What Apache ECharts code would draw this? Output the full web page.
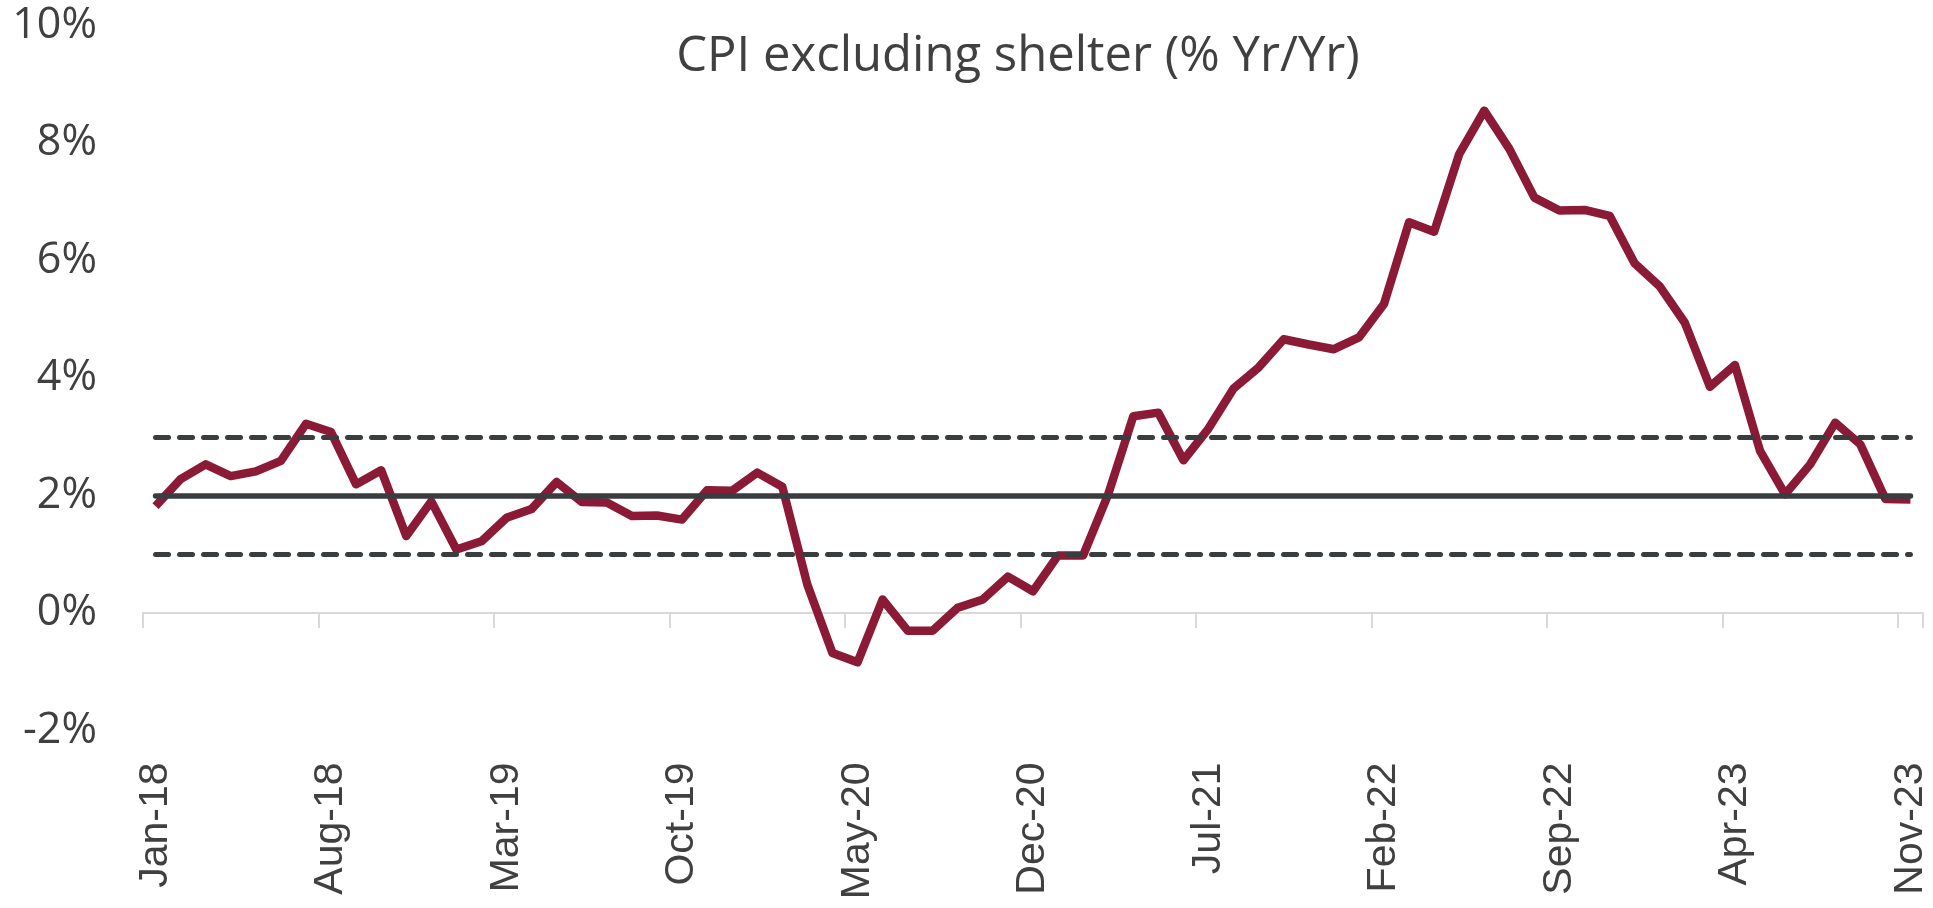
<!DOCTYPE html>
<html>
<head>
<meta charset="utf-8">
<script src="https://cdn.jsdelivr.net/npm/echarts@6/dist/echarts.min.js"></script>
<style>
  html, body { margin: 0; padding: 0; background: #fff; }
  #chart { width: 1933px; height: 908px; }
</style>
</head>
<body>
<div id="chart"></div>
<script>
// monthly categories, Jan-18 .. Nov-23
const months = [
  "Jan-18", "Feb-18", "Mar-18", "Apr-18", "May-18", "Jun-18", "Jul-18", "Aug-18", "Sep-18", "Oct-18", "Nov-18", "Dec-18",
  "Jan-19", "Feb-19", "Mar-19", "Apr-19", "May-19", "Jun-19", "Jul-19", "Aug-19", "Sep-19", "Oct-19", "Nov-19", "Dec-19",
  "Jan-20", "Feb-20", "Mar-20", "Apr-20", "May-20", "Jun-20", "Jul-20", "Aug-20", "Sep-20", "Oct-20", "Nov-20", "Dec-20",
  "Jan-21", "Feb-21", "Mar-21", "Apr-21", "May-21", "Jun-21", "Jul-21", "Aug-21", "Sep-21", "Oct-21", "Nov-21", "Dec-21",
  "Jan-22", "Feb-22", "Mar-22", "Apr-22", "May-22", "Jun-22", "Jul-22", "Aug-22", "Sep-22", "Oct-22", "Nov-22", "Dec-22",
  "Jan-23", "Feb-23", "Mar-23", "Apr-23", "May-23", "Jun-23", "Jul-23", "Aug-23", "Sep-23", "Oct-23", "Nov-23"
];

// CPI ex shelter, % yr/yr
const cpiExShelter = [
  1.82, 2.28, 2.53, 2.33, 2.41, 2.59, 3.22, 3.08, 2.19, 2.43, 1.31, 1.90,
  1.08, 1.22, 1.62, 1.77, 2.23, 1.89, 1.88, 1.65, 1.66, 1.59, 2.09, 2.08,
  2.39, 2.15, 0.48, -0.68, -0.84, 0.23, -0.30, -0.30, 0.09, 0.23, 0.62, 0.37,
  0.98, 0.98, 2.02, 3.35, 3.41, 2.60, 3.14, 3.82, 4.18, 4.66, 4.57, 4.49,
  4.69, 5.26, 6.65, 6.49, 7.81, 8.55, 7.90, 7.07, 6.85, 6.86, 6.76, 5.95,
  5.56, 4.94, 3.85, 4.22, 2.76, 2.02, 2.53, 3.24, 2.87, 1.94, 1.93
];

// target and band
const targetLevel = 2;
const bandLevels = [1, 3];

const yTicks = { min: -2, max: 10, step: 2 };

const refColor = "#3a3d40";
const textColor = "#404040";
const axisGray = "#d9d9d9";

function refLine(level, dashed) {
  return [
    { coord: [months[0], level] },
    {
      coord: [months[months.length - 1], level],
      lineStyle: dashed ? { type: [13, 11], width: 5 } : { type: "solid", width: 5.5 },
    },
  ];
}

const chart = echarts.init(document.getElementById("chart"));
chart.setOption({
  animation: false,
  title: {
    text: "CPI excluding shelter (% Yr/Yr)",
    left: 1013,
    top: 28,
    textAlign: "center",
    textStyle: {
      fontFamily: "Open Sans",
      fontWeight: "normal",
      fontSize: 49,
      color: textColor,
    },
  },
  grid: {
    left: 143, right: 10, top: 25.5, bottom: 177.5,
    containLabel: false,
    outerBoundsMode: "none",
  },
  xAxis: [
    {
      // labels sit low, under the plot
      type: "category",
      data: months,
      boundaryGap: true,
      position: "bottom",
      axisLine: { show: false, onZero: false },
      axisTick: { show: false },
      axisLabel: {
        interval: 6,
        rotate: 90,
        margin: 32,
        fontFamily: "Liberation Sans",
        fontSize: 41,
        color: textColor,
      },
      splitLine: { show: false },
    },
    {
      // the 0% line with its ticks
      type: "category",
      data: months,
      boundaryGap: true,
      position: "top",
      axisLine: { show: true, onZero: true, lineStyle: { color: axisGray, width: 2 } },
      axisTick: { show: true, inside: true, interval: 6, length: 15, lineStyle: { color: axisGray, width: 2 } },
      axisLabel: { show: false },
      splitLine: { show: false },
    },
  ],
  yAxis: {
    type: "value",
    min: yTicks.min,
    max: yTicks.max,
    interval: yTicks.step,
    axisLine: { show: false },
    axisTick: { show: false },
    splitLine: { show: false },
    axisLabel: {
      formatter: "{value}%",
      margin: 46,
      fontFamily: "Open Sans",
      fontSize: 43,
      color: textColor,
    },
  },
  series: [
    {
      name: "CPI excluding shelter",
      type: "line",
      data: cpiExShelter,
      symbol: "none",
      z: 2,
      lineStyle: { color: "#8b1a36", width: 8.5, join: "round" },
    },
    {
      name: "Target",
      type: "line",
      data: [],
      z: 3,
      markLine: {
        silent: true,
        symbol: ["none", "none"],
        label: { show: false },
        lineStyle: { color: refColor, width: 5, cap: "round" },
        data: [
          refLine(targetLevel, false),
          refLine(bandLevels[0], true),
          refLine(bandLevels[1], true),
        ],
      },
    },
  ],
});
</script>
</body>
</html>
